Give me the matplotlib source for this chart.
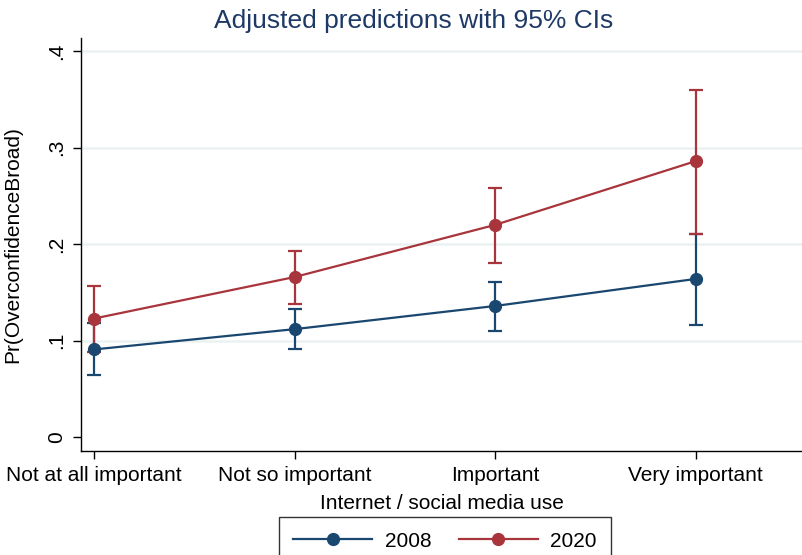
import matplotlib.pyplot as plt

plt.rcParams["font.family"] = ["Liberation Sans", "DejaVu Sans"]

categories = ["Not at all important", "Not so important", "Important", "Very important"]
years = ["2008", "2020"]

# point estimates and 95% CI bounds, Pr(OverconfidenceBroad)
pred_2008 = [0.091, 0.112, 0.136, 0.164]
low_2008 = [0.064, 0.091, 0.110, 0.116]
high_2008 = [0.118, 0.133, 0.161, 0.211]

pred_2020 = [0.123, 0.166, 0.220, 0.286]
low_2020 = [0.088, 0.138, 0.181, 0.211]
high_2020 = [0.157, 0.193, 0.258, 0.360]

colors = {"2008": "#1a476f", "2020": "#a8353b"}

fig = plt.figure(figsize=(8.03, 5.55), dpi=100)
ax = fig.add_axes([81 / 803, 1 - 451 / 555, 1 - 81 / 803, (451 - 38) / 555])

x = list(range(len(categories)))
series = {
    "2008": (pred_2008, low_2008, high_2008),
    "2020": (pred_2020, low_2020, high_2020),
}

# CI caps first, then connected estimates on top
for yr in years:
    pred, lo, hi = series[yr]
    err = [[p - l for p, l in zip(pred, lo)], [h - p for p, h in zip(pred, hi)]]
    ax.errorbar(x, pred, yerr=err, fmt="none", ecolor=colors[yr],
                elinewidth=1.6, capsize=5, capthick=1.6, zorder=2)
for yr in years:
    pred = series[yr][0]
    ax.plot(x, pred, color=colors[yr], lw=1.6, marker="o", ms=8.5,
            label=yr, zorder=3)

ax.set_xlim(-0.066, 3.535)
ax.set_ylim(-0.0142, 0.4135)
ax.set_yticks([0, 0.1, 0.2, 0.3, 0.4])
ax.set_yticklabels(["0", ".1", ".2", ".3", ".4"], rotation=90, va="center")
ax.set_xticks(x)
ax.set_xticklabels(categories)
ax.tick_params(axis="both", direction="out", length=6, width=1, labelsize=15, pad=5)

for y in [0.1, 0.2, 0.3, 0.4]:
    ax.axhline(y, color="#eaf2f3", lw=1.8, zorder=0)

for side in ["top", "right"]:
    ax.spines[side].set_visible(False)
for side in ["left", "bottom"]:
    ax.spines[side].set_linewidth(1)

ax.set_ylabel("Pr(OverconfidenceBroad)", fontsize=15)
ax.yaxis.set_label_coords(-0.082, 0.5)

fig.text(414 / 803, 1 - 28 / 555, "Adjusted predictions with 95% CIs",
         ha="center", va="baseline", fontsize=19, color="#1e3966")
fig.text(442 / 803, 1 - 509 / 555, "Internet / social media use",
         ha="center", va="baseline", fontsize=15)

leg = fig.legend(loc="upper center", bbox_to_anchor=(445 / 803, 1 - 517 / 555),
                 ncol=2, fontsize=15, frameon=True, fancybox=False,
                 edgecolor="black", handlelength=3.8, handletextpad=0.6,
                 columnspacing=1.3, borderpad=0.7, borderaxespad=0)
leg.get_frame().set_linewidth(1)

fig.savefig("out.png", dpi=100)
